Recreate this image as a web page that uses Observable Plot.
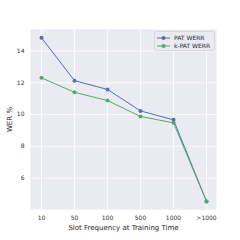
<!DOCTYPE html>
<html><head><meta charset="utf-8">
<script src="https://cdn.jsdelivr.net/npm/d3@7"></script>
<script src="https://cdn.jsdelivr.net/npm/@observablehq/plot@0.6"></script>
<style>
html,body{margin:0;padding:0;background:#fff;}
#wrap{position:relative;width:240px;height:240px;font-family:"DejaVu Sans",sans-serif;}
#legend{position:absolute;left:154px;top:31px;width:61px;height:20px;background:rgba(234,234,242,0.8);border:1px solid #d8d8d8;border-radius:2px;box-sizing:border-box;font-size:6px;color:#262626;font-weight:normal;}
.row{position:absolute;left:1.5px;display:flex;align-items:center;height:8px;}
.row svg{margin-right:4.5px;}
</style>
</head><body>
<div id="wrap"><div id="legend"></div></div>
<script>
const categories = ["10","50","100","500","1000",">1000"];
const patWERR = [14.83, 12.13, 11.58, 10.23, 9.67, 4.54];
const kpatWERR = [12.31, 11.40, 10.88, 9.88, 9.48, 4.54];
const seriesNames = ["PAT WERR","k-PAT WERR"];
const seriesColors = ["#4C72B0","#55A868"];
const yTicks = [6,8,10,12,14];

const data = [];
categories.forEach((c,i)=>{
  data.push({cat:c, val:patWERR[i], s:seriesNames[0]});
});
categories.forEach((c,i)=>{
  data.push({cat:c, val:kpatWERR[i], s:seriesNames[1]});
});

const chart = Plot.plot({
  width:240, height:240,
  marginLeft:30, marginRight:24, marginTop:29, marginBottom:31,
  style:{fontFamily:"DejaVu Sans, sans-serif", fontSize:"6px", color:"#333", background:"transparent"},
  x:{type:"point", domain:categories, padding:0.25, label:"Slot Frequency at Training Time", labelAnchor:"center", labelArrow:"none", labelOffset:20, tickSize:0, tickPadding:6},
  y:{domain:[4.03,15.35], ticks:yTicks, label:"WER %", labelAnchor:"center", labelArrow:"none", labelOffset:23, tickSize:0, tickPadding:6},
  color:{domain:seriesNames, range:seriesColors},
  marks:[
    Plot.frame({fill:"#EAEAF2", stroke:null}),
    Plot.gridX(categories, {stroke:"#fff", strokeOpacity:1, strokeWidth:0.8}),
    Plot.gridY(yTicks, {stroke:"#fff", strokeOpacity:1, strokeWidth:0.8}),
    Plot.line(data, {x:"cat", y:"val", z:"s", stroke:"s", strokeWidth:1}),
    Plot.dot(data, {x:"cat", y:"val", fill:"s", r:2, stroke:null})
  ]
});
chart.style.position="absolute";
chart.style.left="0";chart.style.top="0";
const wrap=document.getElementById("wrap");
wrap.insertBefore(chart, wrap.firstChild);
d3.select(chart).selectAll("[aria-label='x-axis label'] text, [aria-label='y-axis label'] text").style("font-size","7px").style("fill","#222");

const legend=document.getElementById("legend");
seriesNames.forEach((n,i)=>{
  const row=document.createElement("div");
  row.className="row";
  row.style.top=(1.5+i*8.3)+"px";
  row.innerHTML=`<svg width="13" height="6"><line x1="0" y1="3" x2="13" y2="3" stroke="${seriesColors[i]}" stroke-width="1"/><circle cx="6.5" cy="3" r="2" fill="${seriesColors[i]}"/></svg><span>${n}</span>`;
  legend.appendChild(row);
});
</script>
</body></html>
